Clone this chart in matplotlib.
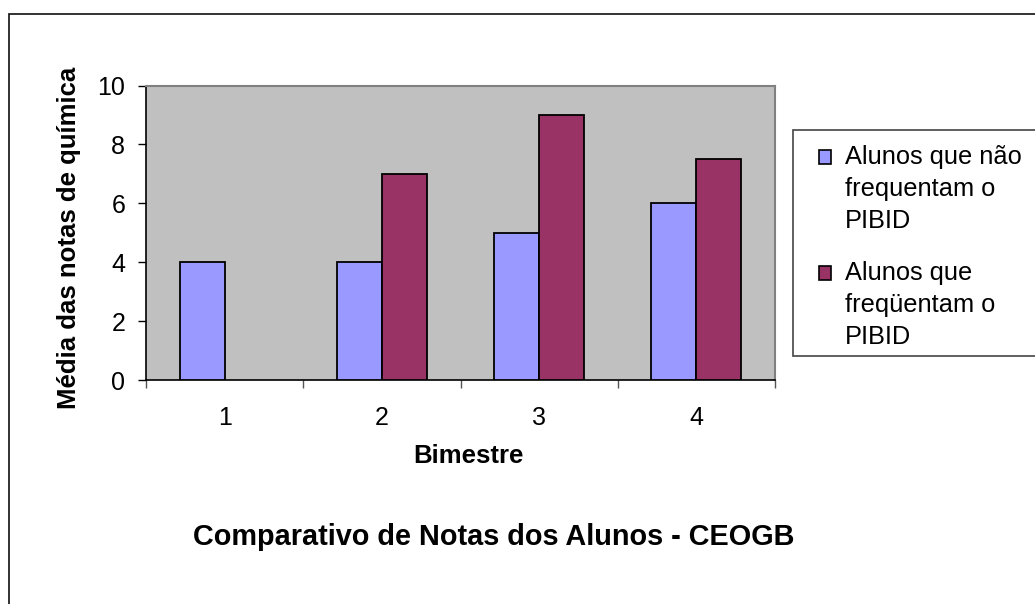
import numpy as np
import matplotlib
matplotlib.use("Agg")
import matplotlib.pyplot as plt
from matplotlib.patches import Rectangle

plt.rcParams['font.family'] = ['Liberation Sans', 'DejaVu Sans']

# Data
bimestres = ["1", "2", "3", "4"]
nao_frequentam = [4, 4, 5, 6]
frequentam = [np.nan, 7, 9, 7.5]
labels = ["Alunos que não\nfrequentam o\nPIBID",
          "Alunos que\nfreqüentam o\nPIBID"]
colors = ["#9999FF", "#993366"]
title = "Comparativo de Notas dos Alunos - CEOGB"
xlabel = "Bimestre"
ylabel = "Média das notas de química"

W, H = 1035, 604
fig = plt.figure(figsize=(W / 100, H / 100), dpi=100)
fig.patch.set_facecolor("white")


def fx(px):
    return px / W


def fy(py):
    return 1 - py / H


# Outer chart frame (continues past the right and bottom edges)
fig.patches.append(Rectangle((fx(9), fy(H + 20)), fx(W + 40), fy(14) - fy(H + 20),
                             transform=fig.transFigure, fill=False,
                             edgecolor="#222222", linewidth=1.3, clip_on=False))

ax = fig.add_axes([fx(146), fy(380), fx(775) - fx(146), fy(85.5) - fy(380)])
ax.set_facecolor("#C0C0C0")

x = np.arange(1, len(bimestres) + 1)
w = 1 / 3.5
ax.bar(x - w / 2, nao_frequentam, width=w, color=colors[0],
       edgecolor="black", linewidth=1.3, zorder=3)
ax.bar(x + w / 2, frequentam, width=w, color=colors[1],
       edgecolor="black", linewidth=1.3, zorder=3)

ax.set_xlim(0.5, len(bimestres) + 0.5)
ax.set_ylim(0, 10)
ax.set_yticks(np.arange(0, 11, 2))
ax.tick_params(axis="y", direction="out", length=6, width=1, pad=9,
               labelsize=18, colors="black")

# Category boundaries carry the ticks, labels sit at the centres
ax.set_xticks(np.arange(0.5, len(bimestres) + 1, 1))
ax.set_xticklabels([])
ax.set_xticks(x, minor=True)
ax.set_xticklabels(bimestres, minor=True)
ax.tick_params(axis="x", which="major", direction="out", length=6, width=1,
               color="#555555")
ax.tick_params(axis="x", which="minor", length=0, pad=19, labelsize=18)

for side in ("left", "bottom"):
    ax.spines[side].set_color("black")
    ax.spines[side].set_linewidth(1.2)
for side in ("top", "right"):
    ax.spines[side].set_color("#808080")
    ax.spines[side].set_linewidth(1.5)

# Axis titles and chart title
fig.text(fx(468), fy(463), xlabel, ha="center", va="baseline",
         fontsize=18.5, fontweight="bold")
fig.text(fx(69.5), fy(238), ylabel, ha="center", va="center", rotation=90,
         fontsize=18.5, fontweight="bold")
fig.text(fx(493.5), fy(545), title, ha="center", va="baseline",
         fontsize=20.8, fontweight="bold")

# Legend box (extends past the right edge)
fig.patches.append(Rectangle((fx(793), fy(356)), fx(W + 40) - fx(793), fy(130) - fy(356),
                             transform=fig.transFigure, fill=True, facecolor="white",
                             edgecolor="#444444", linewidth=1.2, clip_on=False))
first_baselines = [164, 280]
for lab, col, base in zip(labels, colors, first_baselines):
    fig.patches.append(Rectangle((fx(819), fy(base)), fx(12), fy(base - 14) - fy(base),
                                 transform=fig.transFigure, facecolor=col,
                                 edgecolor="black", linewidth=1.2))
    for i, line in enumerate(lab.split("\n")):
        fig.text(fx(845), fy(base + 32 * i), line, ha="left", va="baseline",
                 fontsize=18.3)

fig.savefig("out.png", dpi=100)
